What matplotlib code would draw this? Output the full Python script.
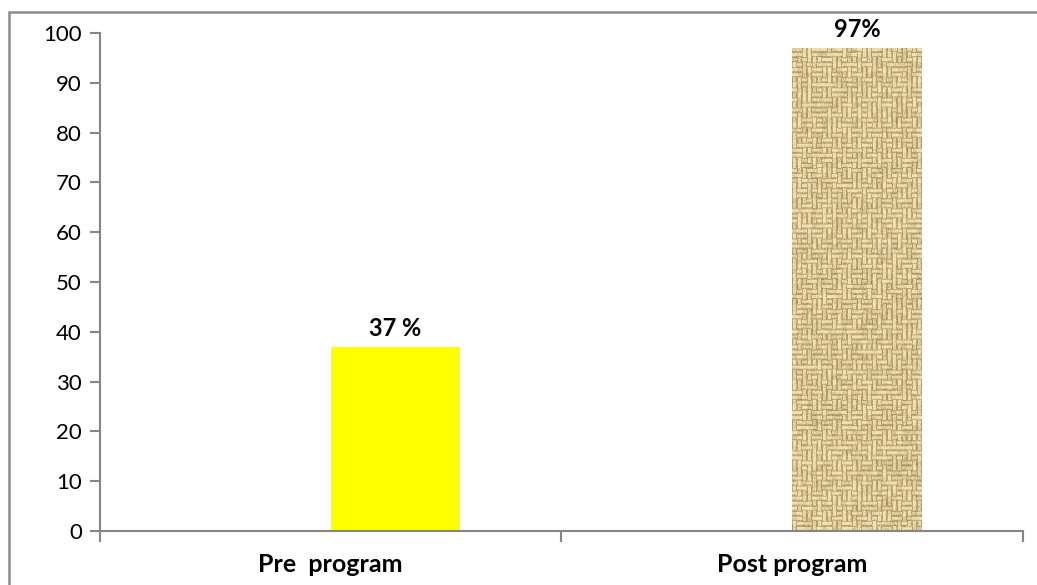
import matplotlib.pyplot as plt
import matplotlib.patches as patches
import numpy as np

categories = ['Pre  program', 'Post program']
values = [37, 97]
labels = ['37 %', '97%']

plt.rcParams['font.family'] = ['Lato', 'DejaVu Sans']

fig = plt.figure(figsize=(10.37, 5.85), dpi=100)
ax = fig.add_axes([0.0964, 0.0923, 0.8901, 0.8513])

# outer chart frame, runs off the right and bottom edges
fig.patches.append(patches.Rectangle((9 / 1037, -0.05), 1.2, 1 - 12 / 585 + 0.05,
                                     transform=fig.transFigure, fill=False,
                                     edgecolor='#8c8c8c', linewidth=1.8))


# woven burlap texture for the second bar
def burlap(rows, cols, cell=5):
    rng = np.random.default_rng(7)
    over = ((np.arange(rows)[:, None] // 2 + np.arange(cols)[None, :] // 2) % 2) > 0
    flip = rng.random((rows, cols)) < 0.2
    over = over ^ flip
    shade = 0.8 + 0.3 * rng.random((rows, cols))
    horiz = np.array([0.5, 1.0, 1.0, 0.95, 0.5])[:, None] * np.ones(cell)[None, :]
    vert = horiz.T
    tile_h = np.kron(~over, np.ones((cell, cell))) * np.tile(horiz, (rows, cols))
    tile_v = np.kron(over, np.ones((cell, cell))) * np.tile(vert, (rows, cols))
    light = (tile_h + tile_v) * np.kron(shade, np.ones((cell, cell)))
    light = light + 0.1 * rng.standard_normal(light.shape)
    light = np.clip(light, 0, 1.05)[..., None]
    dark = np.array([140, 110, 60]) / 255
    bright = np.array([238, 222, 176]) / 255
    img = dark + (bright - dark) * light
    return np.clip(img, 0, 1)


xs = np.arange(len(categories))
width = 0.28
ax.bar(xs[0], values[0], width=width, align='edge', color='#ffff00')
bar = ax.bar(xs[1], values[1], width=width, align='edge', color='none')[0]
tex = burlap(96, 26)
im = ax.imshow(tex, extent=[xs[1], xs[1] + width, 0, values[1]], aspect='auto',
               interpolation='bilinear', zorder=2)
im.set_clip_path(bar)

for x, v, lab in zip(xs, values, labels):
    ax.annotate(lab, (x + width / 2, v), xytext=(0, 5), textcoords='offset points',
                ha='center', va='bottom', fontsize=17, fontweight='bold',
                annotation_clip=False)

ax.set_xlim(-0.5, 1.5)
ax.set_ylim(0, 100)
ax.set_yticks(range(0, 101, 10))
ax.set_xticks([-0.5, 0.5, 1.5])
ax.set_xticklabels([])
ax.set_xticks(xs, minor=True)
ax.set_xticklabels(categories, minor=True, fontsize=18, fontweight='bold')
ax.tick_params(axis='x', which='minor', length=0, pad=16)
ax.tick_params(axis='x', which='major', length=8, color='#868686', width=1.5)
ax.tick_params(axis='y', length=7, color='#868686', width=1.5, labelsize=16, pad=6)

for s in ['top', 'right']:
    ax.spines[s].set_visible(False)
for s in ['left', 'bottom']:
    ax.spines[s].set_color('#868686')
    ax.spines[s].set_linewidth(1.5)

fig.savefig('out.png', dpi=100)
